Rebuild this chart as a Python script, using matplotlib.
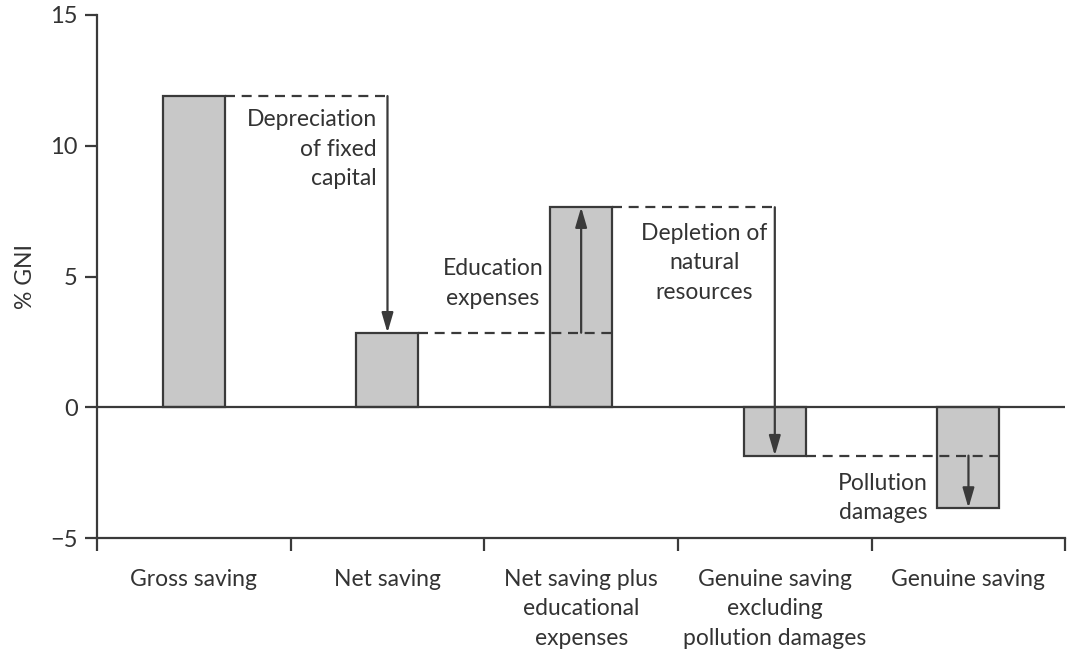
import numpy as np
import matplotlib
matplotlib.use('Agg')
import matplotlib.pyplot as plt

# Genuine saving decomposition, % of GNI
categories = ['Gross saving', 'Net saving', 'Net saving plus\neducational\nexpenses',
              'Genuine saving\nexcluding\npollution damages', 'Genuine saving']
values = [11.9, 2.85, 7.65, -1.85, -3.85]
step_labels = ['Depreciation\nof fixed\ncapital', 'Education\nexpenses',
               'Depletion of\nnatural\nresources', 'Pollution\ndamages']
y_ticks = [-5, 0, 5, 10, 15]

plt.rcParams['font.family'] = ['Lato', 'DejaVu Sans']
dark = '#3a3a3a'
txt = '#333333'
lw = 1.6
dash = (0, (4.5, 3))

fig = plt.figure(figsize=(10.67, 6.55), dpi=100)
ax = fig.add_axes([0.0909, 0.1786, 0.9075, 0.7985])

x = np.arange(len(values))
bw = 0.32
ax.bar(x, values, width=bw, color='#c8c8c8', edgecolor=dark, linewidth=lw, zorder=2)
ax.axhline(0, color=dark, lw=lw, zorder=3)

# connectors: dashed from bar edge, solid arrow at next bar centre
last = len(values) - 2
for i in range(len(values) - 1):
    v0, v1 = values[i], values[i + 1]
    x_end = x[i + 1] + bw / 2 if (v1 > v0 or i == last) else x[i + 1]
    ax.plot([x[i] + bw / 2, x_end], [v0, v0], ls=dash, color=dark, lw=lw, zorder=3)
    ax.annotate('', xy=(x[i + 1], v1), xytext=(x[i + 1], v0),
                arrowprops=dict(arrowstyle='-|>,head_length=1.2,head_width=0.35',
                                color=dark, lw=lw, shrinkA=0, shrinkB=0), zorder=4)

# step annotations
fs = 16.5
ls = 1.5
ax.text(0.945, 11.4, step_labels[0], ha='right', va='top', fontsize=fs, color=txt, linespacing=ls)
ax.text(1.545, 5.7, step_labels[1], ha='center', va='top', fontsize=fs, color=txt, linespacing=ls)
ax.text(2.635, 7.05, step_labels[2], ha='center', va='top', fontsize=fs, color=txt, linespacing=ls)
ax.text(3.56, -2.5, step_labels[3], ha='center', va='top', fontsize=fs, color=txt, linespacing=ls)

ax.set_xlim(-0.5, 4.5)
ax.set_ylim(-5, 15)
ax.set_yticks(y_ticks)
ax.set_yticklabels(['\u22125' if t < 0 else str(t) for t in y_ticks])
ax.set_xticks(np.arange(-0.5, 4.6, 1))
ax.set_xticklabels([])
ax.set_xticks(x, minor=True)
ax.set_xticklabels(categories, minor=True, fontsize=fs, color=txt, linespacing=ls)
ax.tick_params(axis='x', which='minor', length=0, pad=22)
ax.tick_params(axis='x', which='major', direction='out', length=9, width=lw, color=dark)
ax.tick_params(axis='y', direction='out', length=9, width=lw, color=dark, labelsize=17, labelcolor=txt, pad=5)
ax.spines['top'].set_visible(False)
ax.spines['right'].set_visible(False)
for s in ['left', 'bottom']:
    ax.spines[s].set_color(dark)
    ax.spines[s].set_linewidth(lw)
ax.set_ylabel('% GNI', fontsize=fs, color=txt, labelpad=10)

fig.savefig('out.png', dpi=100)
